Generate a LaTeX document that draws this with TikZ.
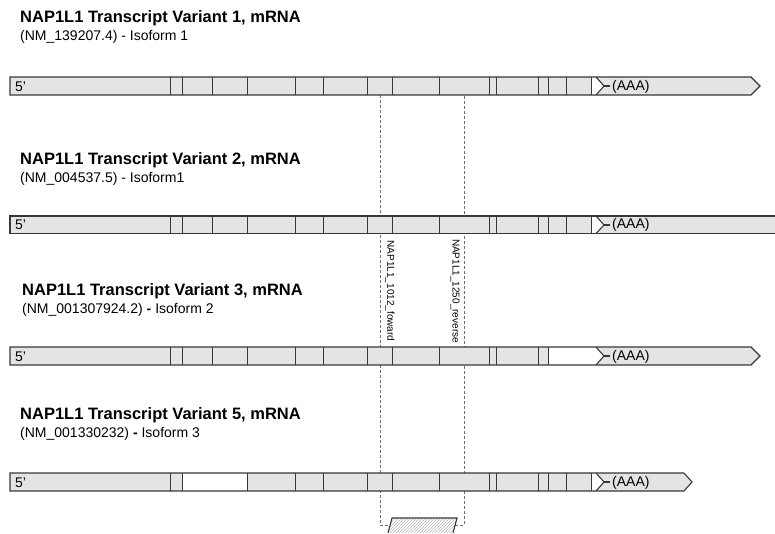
\documentclass[tikz,border=0pt]{standalone}
\usepackage{fontspec}
\setmainfont{Liberation Sans}
\usetikzlibrary{positioning, patterns}
\definecolor{ExonGray}{RGB}{228, 228, 228}
\definecolor{LineGray}{RGB}{55, 55, 55}
\definecolor{PrimerGray}{RGB}{110, 110, 110}

% outline of one mRNA bar with its 3' tail (body end, tip)
\newcommand{\mrnabar}[2]{%
  \fill[ExonGray] (596,0) -- (604,9) -- (596,18) -- (#1,18) -- (#2,9) -- (#1,0) -- cycle;
  \draw[outline] (596,0) -- (604,9) -- (596,18);
  \draw[outline] (604,9) -- (610,9);
  \draw[outline] (10,0) -- (#1,0) -- (#2,9) -- (#1,18) -- (10,18) -- cycle;}

\begin{document}
\begin{tikzpicture}[
        x=1pt, y=-1pt,
        title/.style={font=\fontsize{16.5}{18}\selectfont\bfseries, text=black, inner sep=0pt, anchor=west},
        sub/.style={font=\fontsize{14}{16}\selectfont, text=black, inner sep=0pt},
        outline/.style={draw=LineGray, line width=1.1pt},
        divider/.style={draw=LineGray, line width=0.9pt},
        endlbl/.style={font=\fontsize{14}{16}\selectfont, inner sep=0pt, anchor=west},
        primer/.style={draw=PrimerGray, densely dashed, line width=0.5pt},
        plabel/.style={font=\fontsize{10}{12}\selectfont, inner sep=0pt, rotate=-90}
    ]
        \useasboundingbox (0,0) rectangle (775,533);

        % primer guides
        \coordinate (fwdtop) at (380,95);
        \coordinate (fwdbot) at (380,525);
        \coordinate (revtop) at (464,95);
        \coordinate (revbot) at (464,525);
        \draw[primer] (fwdtop) -- (fwdbot) -- (revbot) -- (revtop);

        % amplicon
        \fill[white] (388,533) -- (392,518) -- (457,518) -- (453,533) -- cycle;
        \fill[pattern=north east lines, pattern color=gray!55] (388,533) -- (392,518) -- (457,518) -- (453,533) -- cycle;
        \draw[outline] (388,533) -- (392,518) -- (457,518) -- (453,533);

        % variant 1
        \node[title] (t1) at (20,18) {NAP1L1 Transcript Variant 1, mRNA};
        \node[sub, below=4pt of t1.south west, anchor=north west] (s1) {(NM\_139207.4) - Isoform 1};
        \begin{scope}[shift={(0,77)}]
            \fill[ExonGray] (10,0) rectangle (591,18);
            \mrnabar{751}{760}
            \foreach \x in {170,182,212,247,295,323,367,392,439,489,496,538,548,566,591}
                \draw[divider] (\x,0) -- (\x,18);
            \node[endlbl] (v1five) at (15,9.5) {5'};
            \node[endlbl] (v1poly) at (612,9.5) {(AAA)};
        \end{scope}

        % variant 2
        \node[title] (t2) at (20,160) {NAP1L1 Transcript Variant 2, mRNA};
        \node[sub, below=4pt of t2.south west, anchor=north west] (s2) {(NM\_004537.5) - Isoform1};
        \begin{scope}[shift={(0,216)}]
            \fill[ExonGray] (10,0) rectangle (591,17.5);
            \fill[ExonGray] (596,0) -- (604,9) -- (596,17.5) -- (775,17.5) -- (775,0) -- cycle;
            \draw[outline] (596,0) -- (604,9) -- (596,17.5);
            \draw[outline] (604,9) -- (610,9);
            \draw[outline] (775,0) -- (10,0) -- (10,17.5) -- (775,17.5);
            \foreach \x in {170,182,212,247,295,323,367,392,439,489,496,538,548,566,591}
                \draw[divider] (\x,0) -- (\x,17.5);
            \node[endlbl] (v2five) at (15,9) {5'};
            \node[endlbl] (v2poly) at (612,9) {(AAA)};
        \end{scope}

        % primer names
        \node[plabel] (fwdname) at (390,291) {NAP1L1\_1012\_foward};
        \node[plabel] (revname) at (455,291) {NAP1L1\_1250\_reverse};

        % variant 3
        \node[title] (t3) at (22,291) {NAP1L1 Transcript Variant 3, mRNA};
        \node[sub, below=4pt of t3.south west, anchor=north west] (s3) {(NM\_001307924.2) \textbf{-} Isoform 2};
        \begin{scope}[shift={(0,347)}]
            \fill[ExonGray] (10,0) rectangle (548,17.5);
            \mrnabar{751}{760}
            \foreach \x in {170,182,212,247,295,323,367,392,439,489,496,538,548}
                \draw[divider] (\x,0) -- (\x,17.5);
            \node[endlbl] (v3five) at (15,9.5) {5'};
            \node[endlbl] (v3poly) at (612,9.5) {(AAA)};
        \end{scope}

        % variant 5
        \node[title] (t4) at (20,415) {NAP1L1 Transcript Variant 5, mRNA};
        \node[sub, below=4pt of t4.south west, anchor=north west] (s4) {(NM\_001330232) \textbf{-} Isoform 3};
        \begin{scope}[shift={(0,473)}]
            \fill[ExonGray] (10,0) rectangle (182,17.5);
            \fill[ExonGray] (247,0) rectangle (591,17.5);
            \mrnabar{684}{692}
            \foreach \x in {170,182,247,295,323,367,392,439,489,496,538,548,566,591}
                \draw[divider] (\x,0) -- (\x,17.5);
            \node[endlbl] (v4five) at (15,9.5) {5'};
            \node[endlbl] (v4poly) at (612,9.5) {(AAA)};
        \end{scope}
    \end{tikzpicture}
\end{document}
